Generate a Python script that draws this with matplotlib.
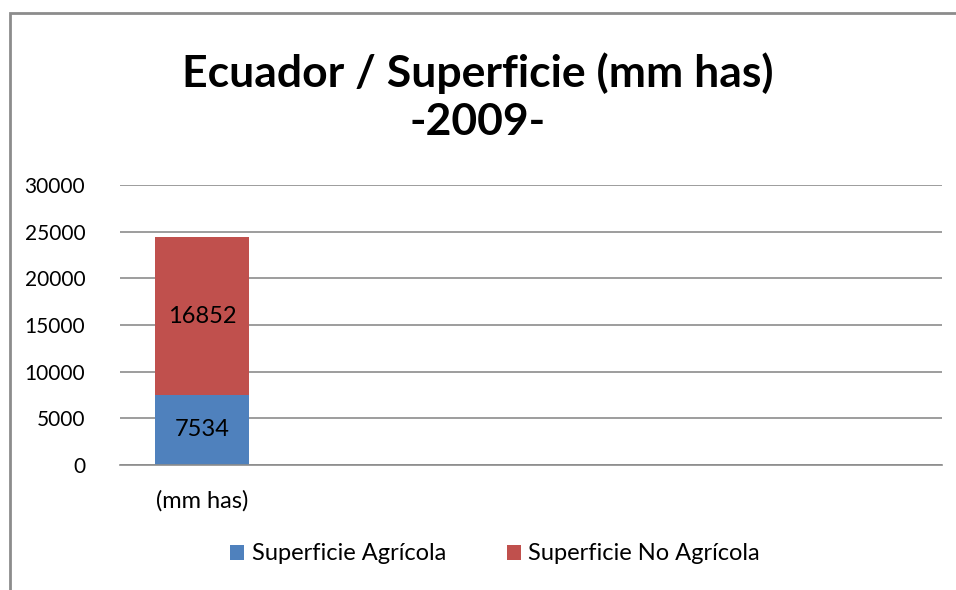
import matplotlib.pyplot as plt
from matplotlib.patches import Rectangle

categories = ["(mm has)", "", "", "", ""]
agricola = [7534, 0, 0, 0, 0]
no_agricola = [16852, 0, 0, 0, 0]
series_names = ["Superficie Agrícola", "Superficie No Agrícola"]
yticks = [0, 5000, 10000, 15000, 20000, 25000, 30000]

plt.rcParams["font.family"] = ["Lato", "DejaVu Sans"]

fig = plt.figure(figsize=(9.56, 5.9), dpi=100)
ax = fig.add_axes([0.1255, 0.2119, 0.86, 0.4745])

# chart border (right and bottom edges fall outside the image)
fig.patches.append(Rectangle((10 / 956, -0.05), 1.05, 1 - 13 / 590 + 0.05,
                             transform=fig.transFigure, fill=False,
                             edgecolor="#8c8c8c", linewidth=2))

x = list(range(len(categories)))
w = 1 / 1.75
b1 = ax.bar(x, agricola, width=w, color="#4f81bd", label=series_names[0])
b2 = ax.bar(x, no_agricola, width=w, bottom=agricola, color="#c0504d", label=series_names[1])

for rects, vals, base in [(b1, agricola, [0] * 5), (b2, no_agricola, agricola)]:
    for r, v, b in zip(rects, vals, base):
        if v:
            ax.text(r.get_x() + r.get_width() / 2, b + v / 2, str(v),
                    ha="center", va="center", fontsize=17, color="black")

ax.set_xlim(-0.5, len(categories) - 0.5)
ax.set_ylim(0, 30000)
ax.set_yticks(yticks)
ax.set_xticks(x)
ax.set_xticklabels(categories)
ax.tick_params(axis="y", length=0, labelsize=15, colors="black", pad=25)
ax.tick_params(axis="x", length=0, labelsize=17, colors="black", pad=18)
ax.grid(axis="y", color="#8c8c8c", linewidth=1.2)
ax.set_axisbelow(True)
for s in ["top", "right", "left"]:
    ax.spines[s].set_visible(False)
ax.spines["bottom"].set_color("#8c8c8c")
ax.spines["bottom"].set_linewidth(1.2)

fig.text(0.5, 1 - 97 / 590, "Ecuador / Superficie (mm has)\n-2009-", ha="center",
         va="center", fontsize=32, fontweight="bold", linespacing=1.25)

fig.legend(handles=[b1, b2], loc="center", bbox_to_anchor=(0.518, 1 - 554 / 590), ncol=2,
           frameon=False, fontsize=17, handlelength=0.6, handleheight=0.6,
           handletextpad=0.3, columnspacing=2.6)

fig.savefig("out.png", dpi=100)
